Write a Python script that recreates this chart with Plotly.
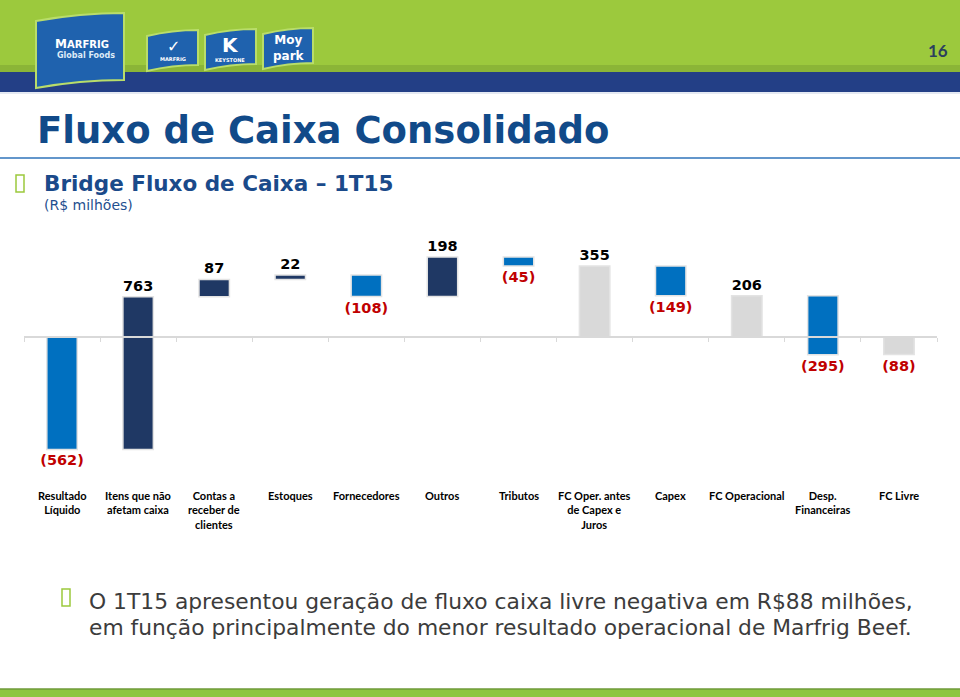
import plotly.graph_objects as go

categories = ["Resultado<br>Líquido", "Itens que não<br>afetam caixa", "Contas a<br>receber de<br>clientes",
              "Estoques", "Fornecedores", "Outros", "Tributos", "FC Oper. antes<br>de Capex e<br>Juros",
              "Capex", "FC Operacional", "Desp.<br>Financeiras", "FC Livre"]
values = [-562, 763, 87, 22, -108, 198, -45, 355, -149, 206, -295, -88]
measures = ["relative", "relative", "relative", "relative", "relative", "relative", "relative",
            "absolute", "relative", "absolute", "relative", "absolute"]

labels = [f"({abs(v)})" if v < 0 else f"{v}" for v in values]
label_colors = ["#C00000" if v < 0 else "#000000" for v in values]

W, H = 960, 697
def py(p):  # pixel y -> paper y
    return 1 - p / H
def px(p):
    return p / W

NAVY = "#1F3864"
BLUE = "#0070C0"
GRAY = "#D9D9D9"
EDGE = "#E3E3E3"

fig = go.Figure(go.Waterfall(
    x=categories, y=values, measure=measures,
    text=labels, textposition="outside", constraintext="none",
    textfont=dict(family="DejaVu Sans", size=14.5, color=label_colors, weight="bold"),
    increasing=dict(marker=dict(color=NAVY, line=dict(color=EDGE, width=1.5))),
    decreasing=dict(marker=dict(color=BLUE, line=dict(color=EDGE, width=1.5))),
    totals=dict(marker=dict(color=GRAY, line=dict(color=EDGE, width=1.5))),
    connector=dict(visible=False),
    width=0.4,
    cliponaxis=False,
    hoverinfo="skip",
))

zero_px = 337
top_px, bot_px = 230, 470
scale = 0.2
fig.update_layout(
    width=W, height=H, margin=dict(l=0, r=0, t=0, b=0),
    paper_bgcolor="white", plot_bgcolor="rgba(0,0,0,0)",
    showlegend=False,
    xaxis=dict(domain=[px(24), px(937)], anchor="free", position=py(zero_px),
               showline=True, linecolor="#D9D9D9", linewidth=1.5,
               ticks="outside", tickson="boundaries", ticklen=4, tickcolor="#D9D9D9",
               showticklabels=False, showgrid=False, fixedrange=True),
    yaxis=dict(domain=[py(bot_px), py(top_px)],
               range=[(zero_px - bot_px) / scale, (zero_px - top_px) / scale],
               visible=False, showgrid=False, zeroline=False, fixedrange=True),
)

shapes = []
# header bands
shapes.append(dict(type="rect", xref="paper", yref="paper", x0=0, x1=1, y0=py(72), y1=1,
                   fillcolor="#9CC93D", line=dict(width=0), layer="below"))
shapes.append(dict(type="rect", xref="paper", yref="paper", x0=0, x1=1, y0=py(72), y1=py(65),
                   fillcolor="#8BB537", line=dict(width=0), layer="below"))
shapes.append(dict(type="rect", xref="paper", yref="paper", x0=0, x1=1, y0=py(92), y1=py(72),
                   fillcolor="#233F86", line=dict(width=0), layer="below"))
shapes.append(dict(type="line", xref="paper", yref="paper", x0=0, x1=1, y0=py(93), y1=py(93),
                   line=dict(color="#C9D3E6", width=1), layer="below"))
# title underline
shapes.append(dict(type="line", xref="paper", yref="paper", x0=0, x1=1, y0=py(158), y1=py(158),
                   line=dict(color="#2F73BA", width=1.5), layer="below"))
# bottom band
shapes.append(dict(type="rect", xref="paper", yref="paper", x0=0, x1=1, y0=0, y1=py(689),
                   fillcolor="#8DC63F", line=dict(width=0), layer="below"))
shapes.append(dict(type="line", xref="paper", yref="paper", x0=0, x1=1, y0=py(689), y1=py(689),
                   line=dict(color="#6F9A3A", width=1.5), layer="below"))
# bullet boxes
for bx, by in [(16, 175), (62, 589)]:
    shapes.append(dict(type="rect", xref="paper", yref="paper", x0=px(bx), x1=px(bx + 8),
                       y0=py(by + 17), y1=py(by), line=dict(color="#9CC93D", width=1.5),
                       fillcolor="rgba(0,0,0,0)"))

# logos (flag-like shapes)
def flag(x0, y0, x1, y1, tilt):
    X0, X1 = px(x0), px(x1)
    Y0, Y1 = py(y1), py(y0)
    t = tilt / H
    return dict(type="path", xref="paper", yref="paper",
                path=f"M {X0},{Y1 - t} Q {(X0+X1)/2},{Y1 + t} {X1},{Y1 + t} "
                     f"L {X1},{Y0 + t} Q {(X0+X1)/2},{Y0 + t} {X0},{Y0 - t} Z",
                fillcolor="#1F62AE", line=dict(color="#B9DD6A", width=2))
shapes.append(flag(36, 17, 124, 84, 4))
shapes.append(flag(147, 33, 198, 68, 3))
shapes.append(flag(205, 32, 256, 67, 3))
shapes.append(flag(263, 31, 313, 66, 3))

annotations = []
def txt(x, y, s, size, color, family="DejaVu Sans", bold=False, xanchor="left", yanchor="middle", align="left"):
    annotations.append(dict(xref="paper", yref="paper", x=px(x), y=py(y), text=s, showarrow=False,
                            xanchor=xanchor, yanchor=yanchor, align=align,
                            font=dict(family=family, size=size, color=color, weight="bold" if bold else "normal")))

txt(82, 44, "M<span style='font-size:10px'>ARFRIG</span>", 12, "white", bold=True, xanchor="center")
txt(86, 56, "Global Foods", 8, "#DDEBF7", bold=True, xanchor="center")
txt(173, 47, "✓", 16, "white", bold=True, xanchor="center")
txt(173, 59, "MARFRIG", 5, "white", bold=True, xanchor="center")
txt(230, 45, "K", 20, "white", bold=True, xanchor="center")
txt(230, 60, "KEYSTONE", 5, "white", bold=True, xanchor="center")
txt(289, 48, "Moy<br>park", 12, "white", bold=True, xanchor="center", align="center")

txt(950, 50, "16", 17, "#2B3F5E", family="Lato", bold=True, xanchor="right")
txt(35, 130, "Fluxo de Caixa Consolidado", 37, "#114A89", bold=True)
txt(42, 184, "Bridge Fluxo de Caixa – 1T15", 21.5, "#1A4A8A", bold=True)
txt(42, 205, "(R$ milhões)", 14, "#1F4F8F")
txt(87, 601, "O 1T15 apresentou geração de fluxo caixa livre negativa em R$88 milhões,",
    21.8, "#3C3C3C", family="DejaVu Sans")
txt(87, 627, "em função principalmente do menor resultado operacional de Marfrig Beef.",
    21.8, "#3C3C3C", family="DejaVu Sans")

# category labels
for c in categories:
    annotations.append(dict(xref="x", yref="paper", x=c, y=py(487), text=c, showarrow=False,
                            xanchor="center", yanchor="top", align="center",
                            font=dict(family="Lato", size=11, color="#000000", weight="bold")))

fig.update_layout(shapes=shapes, annotations=annotations)
fig.write_html("out.html", config={"displayModeBar": False},
               post_script="document.body.style.margin='0';document.body.style.padding='0';")
